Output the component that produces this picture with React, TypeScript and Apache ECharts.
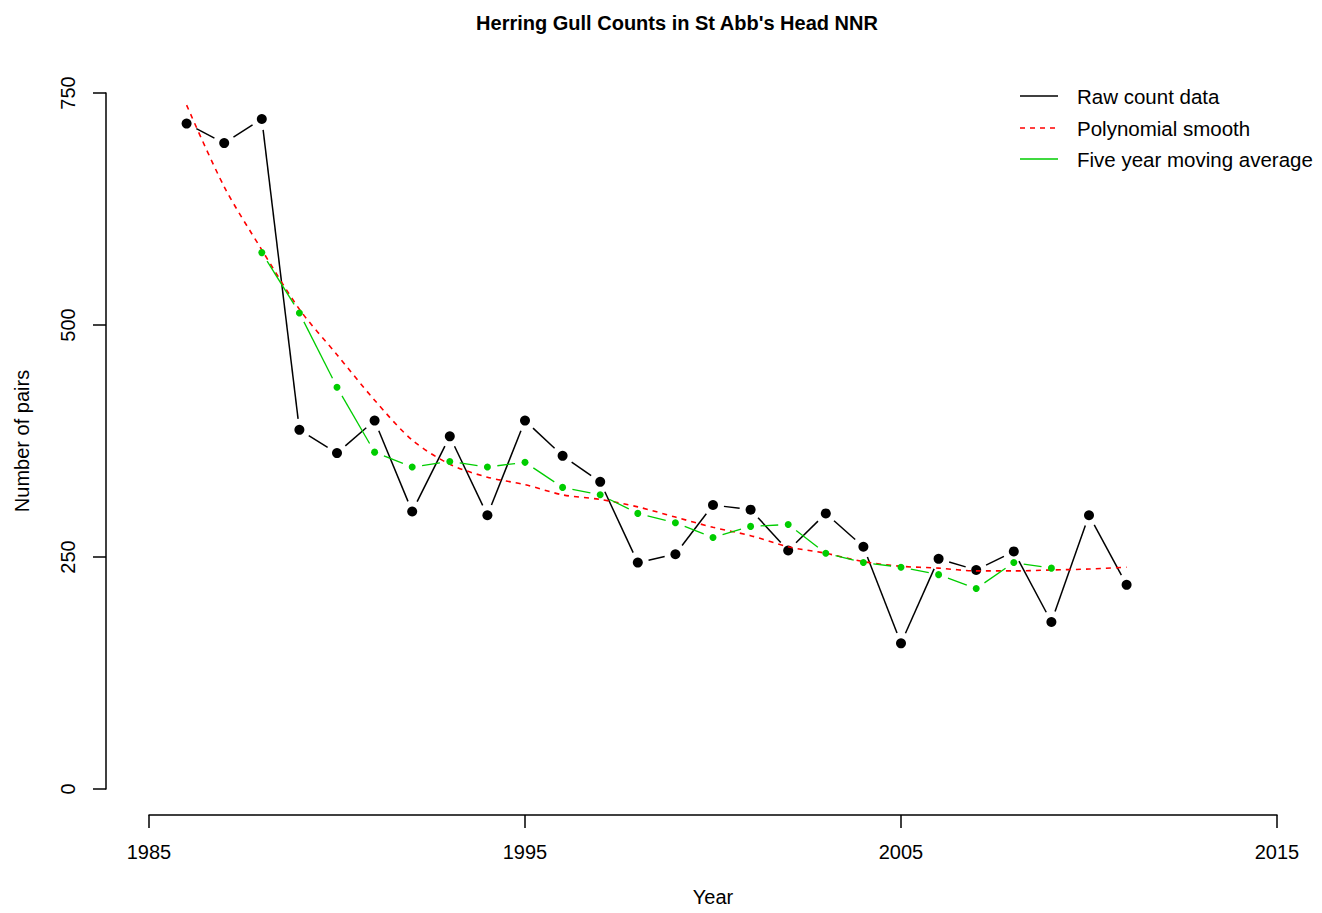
import React, { useEffect, useRef } from "react";
import * as echarts from "echarts";

const years = [1986, 1987, 1988, 1989, 1990, 1991, 1992, 1993, 1994, 1995, 1996, 1997, 1998, 1999, 2000, 2001, 2002, 2003, 2004, 2005, 2006, 2007, 2008, 2009, 2010, 2011];
const rawCounts = [717, 696, 722, 387, 362, 397, 299, 380, 295, 397, 359, 331, 244, 253, 306, 301, 257, 297, 261, 157, 248, 236, 256, 180, 295, 220];
const maYears = [1988, 1989, 1990, 1991, 1992, 1993, 1994, 1995, 1996, 1997, 1998, 1999, 2000, 2001, 2002, 2003, 2004, 2005, 2006, 2007, 2008, 2009];
const movingAverage = [578, 513, 433, 363, 347, 353, 347, 352, 325, 317, 297, 287, 271, 283, 285, 254, 244, 239, 231, 216, 244, 238];
const polySmooth = [737, 649, 581, 517, 468, 419, 376, 350, 336, 328, 317, 312, 304, 293, 282, 273, 261, 254, 245, 240, 238, 235, 235, 236, 237, 239];
const xTicks = [1985, 1995, 2005, 2015];
const legendLabels = ["Raw count data", "Polynomial smooth", "Five year moving average"];

const FONT = "'Liberation Sans', Arial, sans-serif";
const GREEN = "#00CD00";

function segments(xs: number[], ys: number[]) {
  const out: number[][] = [];
  for (let i = 0; i < xs.length - 1; i++) out.push([xs[i], ys[i], xs[i + 1], ys[i + 1]]);
  return out;
}

function gapLine(color: string, width: number, gap: number) {
  return (params: any, api: any) => {
    const p1 = api.coord([api.value(0), api.value(1)]);
    const p2 = api.coord([api.value(2), api.value(3)]);
    const dx = p2[0] - p1[0];
    const dy = p2[1] - p1[1];
    const len = Math.sqrt(dx * dx + dy * dy);
    if (len <= 2 * gap) return null;
    const ux = dx / len;
    const uy = dy / len;
    return {
      type: "line",
      shape: { x1: p1[0] + ux * gap, y1: p1[1] + uy * gap, x2: p2[0] - ux * gap, y2: p2[1] - uy * gap },
      style: { stroke: color, lineWidth: width, fill: null },
    };
  };
}

export default function App() {
  const ref = useRef<HTMLDivElement>(null);
  useEffect(() => {
    if (!ref.current) return;
    const chart = echarts.init(ref.current, null, { renderer: "svg" });
    const legendY = [96, 128, 159];
    chart.setOption({
      animation: false,
      backgroundColor: "#ffffff",
      title: {
        text: "Herring Gull Counts in St Abb's Head NNR",
        left: 672,
        top: 8,
        textAlign: "center",
        textStyle: { fontFamily: FONT, fontSize: 20, fontWeight: "bold", color: "#000" },
      },
      grid: { left: 149, right: 45, top: 93, bottom: 124, containLabel: false },
      xAxis: {
        type: "value",
        min: 1985,
        max: 2015,
        offset: 26,
        name: "Year",
        nameLocation: "middle",
        nameGap: 72,
        nameTextStyle: { fontFamily: FONT, fontSize: 20, color: "#000" },
        axisLine: { show: true, onZero: false, lineStyle: { color: "#000", width: 1.5 } },
        axisTick: { show: true, length: 13, customValues: xTicks, lineStyle: { color: "#000", width: 1.5 } },
        axisLabel: { customValues: xTicks, formatter: (v: number) => String(v), margin: 27, fontFamily: FONT, fontSize: 20, color: "#000" },
        splitLine: { show: false },
      },
      yAxis: {
        type: "value",
        min: 0,
        max: 750,
        interval: 250,
        offset: 43,
        name: "Number of pairs",
        nameLocation: "middle",
        nameGap: 74,
        nameTextStyle: { fontFamily: FONT, fontSize: 20, color: "#000" },
        axisLine: { show: true, onZero: false, lineStyle: { color: "#000", width: 1.5 } },
        axisTick: { show: true, length: 13, lineStyle: { color: "#000", width: 1.5 } },
        axisLabel: { rotate: 90, margin: 28, formatter: (v: number) => String(v), fontFamily: FONT, fontSize: 20, color: "#000" },
        splitLine: { show: false },
      },
      series: [
        {
          type: "custom",
          name: "Raw count data lines",
          renderItem: gapLine("#000", 1.5, 11),
          data: segments(years, rawCounts),
          encode: { x: [0, 2], y: [1, 3] },
          silent: true,
          z: 2,
        },
        {
          type: "scatter",
          name: "Raw count data",
          data: years.map((y, i) => [y, rawCounts[i]]),
          symbol: "circle",
          symbolSize: 10,
          itemStyle: { color: "#000", opacity: 1 },
          z: 3,
        },
        {
          type: "line",
          name: "Polynomial smooth",
          data: years.map((y, i) => [y, polySmooth[i]]),
          showSymbol: false,
          symbol: "none",
          smooth: 0.3,
          lineStyle: { color: "#FF0000", width: 1.6, type: [5, 5] },
          z: 4,
        },
        {
          type: "custom",
          name: "Five year moving average lines",
          renderItem: gapLine(GREEN, 1.3, 10),
          data: segments(maYears, movingAverage),
          encode: { x: [0, 2], y: [1, 3] },
          silent: true,
          z: 5,
        },
        {
          type: "scatter",
          name: "Five year moving average",
          data: maYears.map((y, i) => [y, movingAverage[i]]),
          symbol: "circle",
          symbolSize: 7,
          itemStyle: { color: GREEN, opacity: 1 },
          z: 6,
        },
      ],
      graphic: [
        { type: "line", shape: { x1: 1020, y1: legendY[0], x2: 1058, y2: legendY[0] }, style: { stroke: "#000", lineWidth: 1.5 } },
        { type: "line", shape: { x1: 1020, y1: legendY[1], x2: 1058, y2: legendY[1] }, style: { stroke: "#FF0000", lineWidth: 1.6, lineDash: [5, 5] } },
        { type: "line", shape: { x1: 1020, y1: legendY[2], x2: 1058, y2: legendY[2] }, style: { stroke: GREEN, lineWidth: 1.5 } },
        ...legendLabels.map((t, i) => ({
          type: "text",
          x: 1077,
          y: legendY[i],
          style: { text: t, fontFamily: FONT, fontSize: 20.5, fill: "#000", verticalAlign: "middle", textAlign: "left" },
        })),
      ],
    });
    return () => chart.dispose();
  }, []);
  return <div ref={ref} style={{ position: "absolute", left: 0, top: 0, width: 1322, height: 913 }} />;
}
